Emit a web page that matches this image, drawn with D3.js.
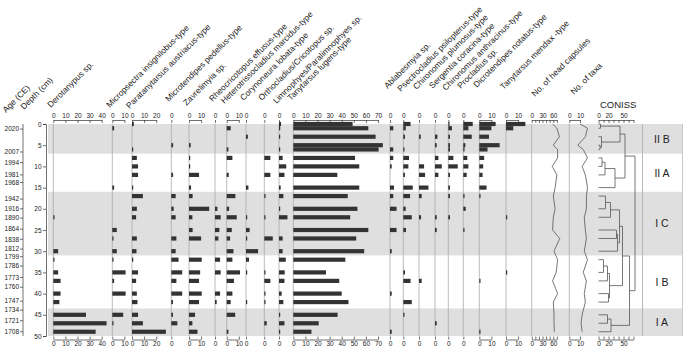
<!DOCTYPE html>
<html><head><meta charset="utf-8">
<script src="https://cdn.jsdelivr.net/npm/d3@7"></script>
<style>body{margin:0;background:#fff}svg{display:block;font-family:"Liberation Sans",Arial,sans-serif}</style>
</head><body><svg id="c" width="685" height="349"></svg>
<script>
// ---------- DATA ----------
const depths = [0,1,3,5,6,8,10,12,15,17,20,22,25,27,30,32,35,37,40,42,45,47,49];
const ageLabels = ["2020","2007","1994","1981","1968","1942","1916","1890","1864","1838","1812","1799","1786","1773","1760","1747","1734","1721","1708"];
const ageDepths = [1.2,6.6,9.1,12.0,13.8,17.7,20.0,22.2,24.8,27.2,29.5,31.3,33.5,36.2,38.5,41.8,43.9,46.4,49.0];
const depthTicks = [0,5,10,15,20,25,30,35,40,45,50];
const taxaNames = ["Derotanypus sp.","Micropsectra insignilobus-type","Paratanytarsus austriacus-type","Microtendipes pedellus-type","Zavrelimyia sp.","Rheocricotopus effusus-type","Heterotrissocladius marcidus-type","Corynoneura lobata-type","Orthocladius/Cricotopus sp.","Limnophyes/Paralimnophyes sp.","Tanytarsus lugens-type","Ablabesmyia sp.","Psectrocladius psilopterus-type","Chironomus plumosus-type","Sergentia coracina-type","Chironomus anthracinus-type","Procladius sp.","Dicrotendipes notatus-type","Tanytarsus mendax -type"];
const derotanypus   = [0,0,0,0,0,0,0,0,0,0,0,1,0,0,4,1,4,6,6,5,27,44,35];
const micropsectra  = [0,1.5,0,0,0,0,0,0,1.5,0,0,0,3.7,1,3.7,1,11,1.5,11,0,9,1,0];
const paratanytarsus= [1.5,0,0,0,1,4,5,5,1,9,4,3.4,0,4,3.7,1,5,3.4,4,4.5,5,9,28];
const microtendipes = [0,0,0,1.5,0,0,0,1.5,0,3.6,2,3.6,0,4.2,3.6,6,9,4.2,9,1.4,1.4,5,0];
const zavrelimyia   = [0,0,0,1.4,0,1,1,8.3,1.7,3,16.7,2.8,3,10,0,10.5,9.2,8.3,10.5,8.3,5,2.8,7];
const rheocricotopus= [0,0,0,0,0,0,0,0,0,0,2,4.7,3.6,2.8,0,4.2,4.7,0,4.2,1.4,0,0,0];
const heterotriss   = [0,3.3,0,0,1.4,4.7,0,1.7,0,7.2,2,8.3,4.2,2.8,5.6,4.7,11,6,4.7,3.3,7,0,1.4];
const corynoneura   = [0,0,1.5,0,0,0,0,0,2,0,0,1,3,1,10,2.5,1,0,0,1,0,0,0];
const orthocladius  = [0,0,0,0,0,5,0,5,0,1,0,1,0,7,0,0,1,5,1,1,0,2,0];
const limnophyes    = [1.7,1,1,0,1,3,6,4.5,1.4,3.6,1,7,0,3,3,5.6,4.7,4.5,2.2,3.6,1,4.5,1];
const tanyLugens    = [49,62,68,74,70.5,51,54.5,36.4,54.5,45,53,47,62,52,58.6,43,27,38,40,45.6,36.6,21,15];
const ablabesmyia   = [0,2.7,0,0,2.7,2.7,1.4,0,3.3,2.7,5.4,0,5.4,0,1.4,0,0,0,1.4,0,0,0,1.4];
const psectrocladius= [6,2,1.4,0,1,4.7,4.2,1.4,7.8,5.6,2,7,2.2,0,0,0,1.4,6,0,7,1,0,0];
const chirPlumosus  = [0,0,1.4,0,0,0,4.2,5,7.8,2.2,0,1.7,0,0,0,0,0,2.2,0,0,0,0,0];
const sergentia     = [0,0,2,1.4,0,2.8,5.6,2.8,0,0,0,1.4,1.4,0,0,0,0,0,0,0,0,1.4,0];
const chirAnthrac   = [1,3,1.4,1.4,1.4,4.2,7.8,1.4,1.4,1.4,0,1.4,0,0,0,0,0,0,0,0,0,0,0];
const procladius    = [7.8,4.2,7,1.7,1,3.3,4.2,2.8,0,1,2,0,1,0,0,0,0,0,0,0,0,0,0];
const dicrotendipes = [13.5,10,8,16.8,6.8,4,3.2,2.7,6,1,0,0,0,0,0,0,0,1,0,0,0,0,1];
const tanyMendax    = [16,6,0,0,0,0,0,0,0,0,0,1,0,0,0,0,1,0,0,0,0,0,0];
const axisMax = [40,10,20,0,10,0,10,0,0,0,70,0,0,0,0,0,0,10,10];
const headCapsules = [58,70,77,60,72,72,57,70,65,60,65,60,58,78,62,72,68,58,72,60,62,62,63];
const numTaxa      = [10,17,15,8,13,17,12,15,17,16,16,14,15,16,14,17,13,16,14,15,12,11,12];
const zoneNames  = ["II B","II A","I C","I B","I A"];
const zoneBounds = [0,7,16,31,43.5,50];
// CONISS merges: [childA, childB, total sum of squares]; leaves 0..22, new nodes from 23
const conissMerges = [[0,1,4],[3,4,3],[2,24,6],[23,25,43],[5,6,7],[27,7,13],[28,8,33],[26,29,53],
  [9,10,14],[31,11,24],[12,13,36],[33,14,38],[32,34,42],[15,16,10],[36,17,18],[18,19,20],[37,38,22],
  [35,39,48],[20,21,18],[41,22,25],[40,42,62],[30,43,73]];

const series = [derotanypus,micropsectra,paratanytarsus,microtendipes,zavrelimyia,rheocricotopus,heterotriss,
  corynoneura,orthocladius,limnophyes,tanyLugens,ablabesmyia,psectrocladius,chirPlumosus,sergentia,chirAnthrac,
  procladius,dicrotendipes,tanyMendax];

// ---------- LAYOUT ----------
const zeroX = [53.3,112.3,132,171.3,189,215,226.7,246,264.3,279,293.3,390,403.3,419,435,448.3,463.3,479.3,506];
const labelY = [108,108,109,102,106,102,104,101,101,104,101,89,92,90,89,91,89,88,90];
const K = 1.21; // px per percent
const svg = d3.select("#c");
const y = d3.scaleLinear().domain([0,50]).range([124,336]);
const TOP = 120, BOT = 339.5;
const fs = 6.5;

// zone bands
const bandG = svg.append("g");
zoneNames.forEach((z,i)=>{
  if(i%2===0) bandG.append("rect").attr("x",48).attr("width",634).attr("y",y(zoneBounds[i])).attr("height",y(zoneBounds[i+1])-y(zoneBounds[i])).attr("fill","#dfdfdf");
  svg.append("text").attr("x",662).attr("y",(y(zoneBounds[i])+y(zoneBounds[i+1]))/2+3.8).attr("text-anchor","middle")
    .attr("font-size",10.5).attr("fill","#222").text(z);
});
svg.append("line").attr("x1",642.5).attr("x2",642.5).attr("y1",y(0)).attr("y2",y(50)).attr("stroke","#b8b8b8");
svg.append("line").attr("x1",682.5).attr("x2",682.5).attr("y1",y(0)).attr("y2",y(50)).attr("stroke","#c8c8c8");

function styleAxis(g){
  g.select(".domain").attr("stroke","#333").attr("stroke-width",0.7);
  g.selectAll(".tick line").attr("stroke","#333").attr("stroke-width",0.7);
  g.selectAll(".tick text").attr("font-size",fs).attr("fill","#222").attr("font-family","Liberation Sans, Arial, sans-serif");
}
function drawAxes(x0, max, k, ticks, fmt){
  const sc = d3.scaleLinear().domain([0,max]).range([x0, x0+max*k]);
  const top = d3.axisTop(sc).tickValues(ticks).tickSizeInner(-3).tickSizeOuter(0).tickPadding(2).tickFormat(fmt||d3.format("d"));
  const bot = d3.axisBottom(sc).tickValues(ticks).tickSizeInner(-3).tickSizeOuter(0).tickPadding(2).tickFormat(fmt||d3.format("d"));
  svg.append("g").attr("transform",`translate(0,${TOP})`).call(top).call(styleAxis);
  svg.append("g").attr("transform",`translate(0,${BOT})`).call(bot).call(styleAxis);
}
function zeroLine(x0){
  svg.append("line").attr("x1",x0).attr("x2",x0).attr("y1",y(0)).attr("y2",y(50)).attr("stroke","#aaa").attr("stroke-width",0.8);
}
function headLabel(x,yy,t){
  svg.append("text").attr("transform",`translate(${x},${yy}) rotate(-45)`).attr("font-size",8.4).attr("fill","#222").text(t);
}

// percentage panels
series.forEach((vals,i)=>{
  const x0 = zeroX[i];
  const x = d3.scaleLinear().domain([0,100]).range([x0, x0+100*K]);
  zeroLine(x0);
  svg.append("g").selectAll("rect").data(vals.map((v,j)=>({v,d:depths[j]})).filter(e=>e.v>0)).join("rect")
    .attr("x",x0).attr("width",e=>x(e.v)-x0).attr("y",e=>y(e.d)-2.1).attr("height",4.2).attr("fill","#333");
  drawAxes(x0, axisMax[i], K, d3.range(0, axisMax[i]+1, 10));
  headLabel(x0-2.5, labelY[i], taxaNames[i]);
});

// head capsules
{
  const x0 = 531.7, k = 0.36;
  const x = d3.scaleLinear().domain([0,100]).range([x0,x0+100*k]);
  zeroLine(x0);
  svg.append("path").datum(headCapsules).attr("fill","none").attr("stroke","#555").attr("stroke-width",0.8)
    .attr("d", d3.line().x(v=>x(v)).y((v,j)=>y(depths[j])));
  drawAxes(x0, 70, k, d3.range(0,71,10), v=> (v%30===0? v : ""));
  headLabel(535, 97, "No. of head capsules");
}
// number of taxa
{
  const x0 = 569.3, k = 1.07;
  const x = d3.scaleLinear().domain([0,100]).range([x0,x0+100*k]);
  zeroLine(x0);
  svg.append("path").datum(numTaxa).attr("fill","none").attr("stroke","#555").attr("stroke-width",0.8)
    .attr("d", d3.line().x(v=>x(v)).y((v,j)=>y(depths[j])));
  drawAxes(x0, 10, k, [0,10]);
  headLabel(574, 95, "No. of taxa");
}
// CONISS
{
  const x0 = 598.5, k = 0.5;
  const x = d3.scaleLinear().domain([0,100]).range([x0,x0+100*k]);
  const nodes = depths.map(d=>({x:x(0), y:y(d)}));
  const g = svg.append("g").attr("stroke","#555").attr("stroke-width",0.8).attr("fill","none");
  conissMerges.forEach(([a,b,h])=>{
    const A = nodes[a], B = nodes[b], nx = x(h);
    g.append("path").attr("d",`M${A.x},${A.y}H${nx}V${B.y}H${B.x}`);
    nodes.push({x:nx, y:(A.y+B.y)/2});
  });
  drawAxes(x0, 70, k, d3.range(0,71,10), v=> ([0,20,50].includes(v)? v : ""));
  svg.append("text").attr("x",600).attr("y",108).attr("font-size",9.5).attr("fill","#222").text("CONISS");
}

// depth axis
{
  const ax = d3.axisLeft(y).tickValues(depthTicks).tickSize(3).tickPadding(1.5).tickFormat(d3.format("d"));
  svg.append("g").attr("transform","translate(46,0)").call(ax).call(styleAxis);
  headLabel(24, 110, "Depth (cm)");
}
// age axis
{
  const g = svg.append("g");
  g.append("line").attr("x1",23).attr("x2",23).attr("y1",y(0)).attr("y2",y(50)).attr("stroke","#333").attr("stroke-width",0.7);
  ageLabels.forEach((a,i)=>{
    g.append("line").attr("x1",20).attr("x2",23).attr("y1",y(ageDepths[i])).attr("y2",y(ageDepths[i])).attr("stroke","#333").attr("stroke-width",0.7);
    g.append("text").attr("x",19).attr("y",y(ageDepths[i])+2.2).attr("text-anchor","end").attr("font-size",fs).attr("fill","#222").text(a);
  });
  headLabel(6, 113, "Age (CE)");
}
</script></body></html>
